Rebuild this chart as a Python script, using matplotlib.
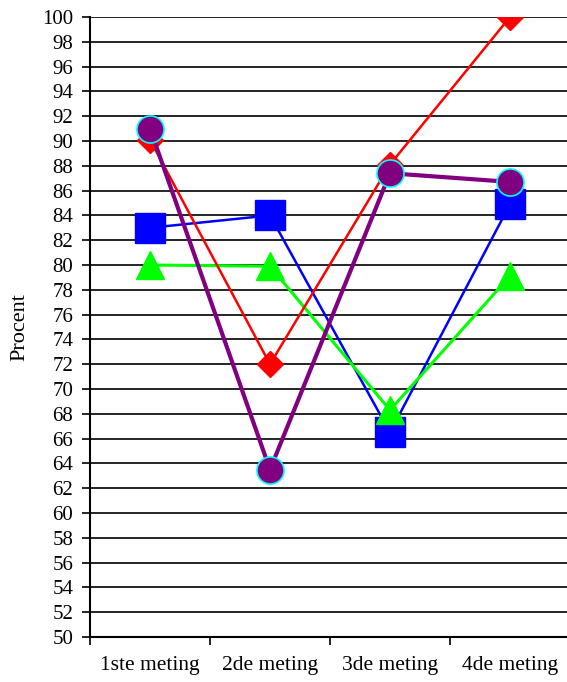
import numpy as np
import matplotlib.pyplot as plt

plt.rcParams['font.family'] = ['Liberation Serif', 'DejaVu Serif']

metingen = ["1ste meting", "2de meting", "3de meting", "4de meting"]
blauw = [83.0, 84.0, 66.5, 84.9]
rood = [90.1, 72.0, 88.1, 100.0]
groen = [80.0, 79.9, 68.3, 79.1]
paars = [91.0, 63.5, 87.4, 86.7]

fig = plt.figure(figsize=(5.67, 6.82), dpi=100)
# plot area runs slightly past the right edge of the picture
ax = fig.add_axes([90/567, 45/682, 480/567, 620/682])

x = np.arange(len(metingen))
ax.plot(x, blauw, color='#0000FF', lw=1.8, marker='s', ms=21, zorder=3)
ax.plot(x, rood, color='#FF0000', lw=1.8, marker='D', ms=13, zorder=4)
ax.plot(x, groen, color='#00FF00', lw=2.2, marker='^', ms=20, zorder=3)
ax.plot(x, paars, color='#800080', lw=3, marker='o', ms=19.5,
        markeredgecolor='#00FFFF', markeredgewidth=1.2, zorder=5)

ax.set_xlim(-0.5, 3.5)
ax.set_ylim(50, 100)
ax.set_yticks(np.arange(50, 101, 2))
ax.set_xticks(x)
ax.set_xticklabels(metingen, fontsize=15.5)
ax.set_xticks(np.arange(-0.5, 3.6, 1), minor=True)
ax.tick_params(axis='x', which='major', length=0, pad=14)
ax.tick_params(axis='x', which='minor', length=6, width=1.2, direction='out')
ax.tick_params(axis='y', labelsize=15, length=6, width=1.2, pad=6)
ax.yaxis.grid(True, color='black', lw=1.2)
ax.set_axisbelow(True)
ax.set_ylabel('Procent', fontsize=16, labelpad=9)

for s in ['top', 'right']:
    ax.spines[s].set_visible(False)
for s in ['left', 'bottom']:
    ax.spines[s].set_linewidth(1.5)

fig.savefig('out.png', dpi=100)
